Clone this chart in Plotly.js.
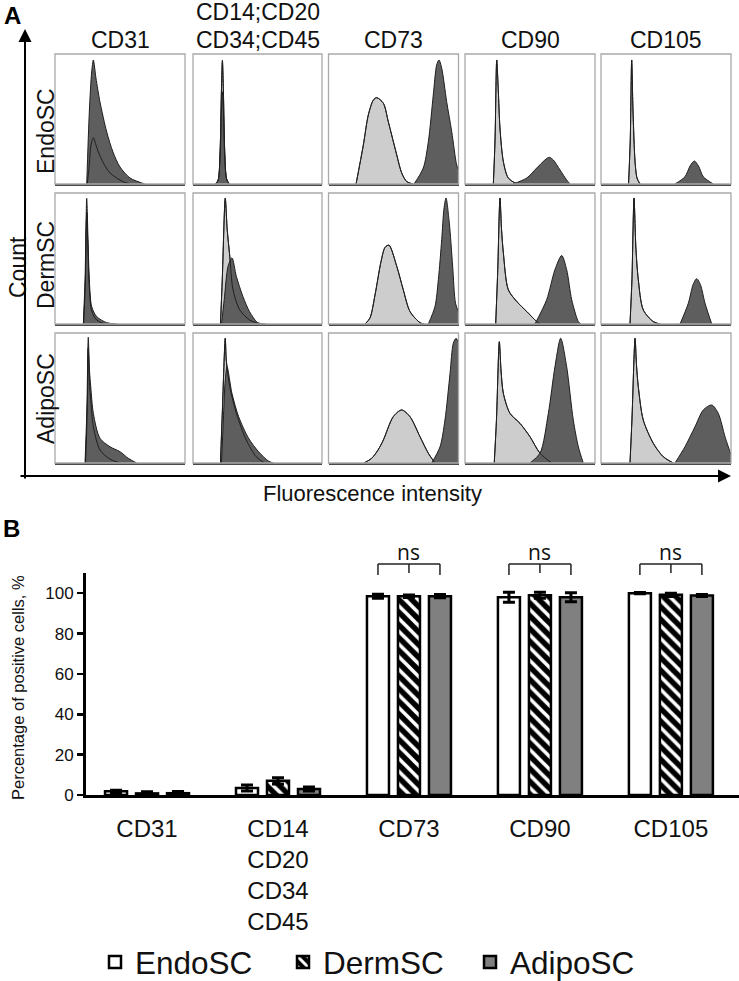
<!DOCTYPE html>
<html><head><meta charset="utf-8">
<script src="https://cdn.plot.ly/plotly-3.0.1.min.js"></script>
<style>html,body{margin:0;padding:0;background:#fff}#chart{width:739px;height:981px}</style>
</head><body><div id="chart"></div>
<script>
// ================= DATA =================
const cellTypes = ['EndoSC', 'DermSC', 'AdipoSC'];
const histHeaders = ['CD31', 'CD14;CD20<br>CD34;CD45', 'CD73', 'CD90', 'CD105'];

// Flow cytometry histograms: [fluorescence (panel units 0-100), relative count (0-100)]
// light grey = control, dark grey = stained
const endo_cd31_ctrl  = [[24.8,0],[26.2,12.3],[27.7,30],[29.5,35.6],[31.2,31],[33.3,24.8],[37.2,16.2],[42.3,8.5],[52.3,1.8],[57.7,0]];
const endo_cd31_stain = [[24.4,0],[26.4,55.4],[28.2,86.2],[29.5,95.4],[31.5,81.5],[34.6,63.1],[39.8,40],[44.6,24.6],[50,13.1],[57.7,4.6],[66.7,0.8],[69,0]];
const endo_cd14_ctrl  = [[17.5,0],[19.5,3],[21,25],[22,70],[22.8,95],[23.6,70],[24.6,25],[26,4],[28,0]];
const endo_cd14_stain = [[17.5,0],[19.5,3],[21,20],[22,55],[22.8,71],[23.6,55],[24.6,20],[26,4],[28,0]];
const endo_cd73_ctrl  = [[21.2,0],[26.8,30],[30.6,53],[34.5,64.6],[37.1,66.4],[42.2,62.1],[46,47.9],[48.6,37.7],[52.5,22.3],[56.3,8.5],[60.2,1.8],[65.2,0]];
const endo_cd73_stain = [[65.8,0],[72.9,12.3],[76.8,32.5],[80.6,68.5],[83.2,91.5],[85,95.4],[87.1,89],[90.9,63.3],[94.8,40.2],[98.6,14.6],[100,10.8]];
const endo_cd90_ctrl  = [[21.8,0],[23.1,33.8],[24.4,95.4],[25.6,72.3],[26.9,43.1],[29.5,17.2],[33.3,4.6],[39.8,0]];
const endo_cd90_stain = [[36.9,0],[47.5,4.6],[55.2,12.3],[61.5,18.5],[64.8,20.5],[67.9,18.5],[73.1,10.8],[78.2,3.1],[80.8,0]];
const endo_cd105_ctrl  = [[21.2,0],[22.5,33.8],[23.6,95.4],[24.6,57],[26.2,17.2],[27.7,4.6],[30,0]];
const endo_cd105_stain = [[56.9,0],[64.6,5.6],[68.5,13.8],[71.8,17.7],[75,13.8],[78.7,5.6],[86.4,0]];

const derm_cd31_ctrl  = [[22,0],[23.3,30],[24.4,85],[25.4,55],[26.4,28],[28.2,10],[32.1,3],[38,0]];
const derm_cd31_stain = [[21.8,0],[23.1,33.8],[24.4,95.9],[25.4,64.6],[26.4,33.8],[28.2,13.3],[32.1,5.6],[39.8,1],[47.5,0]];
const derm_cd14_ctrl  = [[21.3,0],[22.7,33.8],[25,96],[26.5,72.3],[28.5,51.8],[31,26.2],[36.2,10.8],[43.8,3.1],[51.5,0]];
const derm_cd14_stain = [[22.1,0],[24.2,18.5],[27.2,44.1],[30.2,50.5],[33.6,36.4],[38.7,21],[43.8,9.5],[50.2,1],[56.2,0]];
const derm_cd73_ctrl  = [[28.1,0],[31.9,4.6],[35.8,22.3],[40.4,47.7],[43.5,58.5],[46.5,60.2],[52.5,44.1],[57.5,26.2],[62.7,9.5],[70.4,1],[73.5,0]];
const derm_cd73_stain = [[76.8,0],[81.9,13.3],[84.5,33.8],[87.1,64.6],[88.8,87.7],[90.4,96.2],[92.9,77.5],[95.5,44.1],[97.7,15.9],[100,9.2]];
const derm_cd90_ctrl  = [[23.6,0],[25.2,41.5],[26.9,96.2],[28.1,72.3],[29.5,54.4],[33.3,26.2],[39.8,17.2],[47.5,9.5],[55.2,1.8],[57.7,0]];
const derm_cd90_stain = [[53.8,0],[62.8,18.5],[69.2,41.5],[74.4,52.3],[78.2,41.5],[82.1,18.5],[87.2,1.8],[89.2,0]];
const derm_cd105_ctrl  = [[22.3,0],[23.8,33.8],[25.4,96.2],[26.9,56.9],[28.7,33.8],[32.5,10.8],[40.2,1.8],[45.4,0]];
const derm_cd105_stain = [[60.8,0],[67.2,15.9],[70.8,30],[73.6,34.6],[76.5,30],[80,15.9],[85.2,0]];

const adipo_cd31_ctrl  = [[23.5,0],[24.8,40],[25.6,88],[26.5,62],[27.5,48],[29.5,28],[34.6,10],[42.3,3],[50,0]];
const adipo_cd31_stain = [[23.1,0],[24.5,40.8],[25.6,96.7],[26.5,71.5],[27.5,58.7],[29.5,38.2],[34.6,19],[42.3,12.5],[50,8.7],[56.4,3.6],[62.8,0]];
const adipo_cd14_ctrl  = [[21.3,0],[22.8,40.8],[25,95.9],[25.8,79.2],[28.5,58.7],[33.6,38.2],[41.3,17.7],[49,4.8],[55.4,0]];
const adipo_cd14_stain = [[22.1,0],[23.5,33.1],[25,63.8],[26.4,74.1],[30.2,53.6],[35.4,35.6],[43.1,19],[50.8,8.7],[58.5,1.5],[62.3,0]];
const adipo_cd73_ctrl  = [[27.3,0],[33.2,3.6],[38.1,10],[42.2,17.7],[49.8,35.6],[56.3,40.8],[62.7,35.6],[70.4,20.2],[76.8,7.5],[81.9,0]];
const adipo_cd73_stain = [[79.4,0],[85.8,12.5],[89.6,33.1],[93.5,69],[96,92.1],[98.1,95.9],[100,93]];
const adipo_cd90_ctrl  = [[22.5,0],[24.2,33.1],[26.4,93.3],[27.7,71.5],[29.5,53.6],[34.6,38.2],[42.3,30.5],[50,20.2],[57.7,7.5],[66.7,0]];
const adipo_cd90_stain = [[50,0],[57.7,7.5],[64.1,38.2],[69.2,74.1],[73.6,95.9],[78.2,74.1],[83.3,33.1],[87.2,12.5],[91,0]];
const adipo_cd105_ctrl  = [[22.3,0],[23.8,33.1],[26.2,95.9],[27.3,75.4],[28.7,58.7],[32.5,33.1],[40.2,15.2],[47.9,4.8],[55.6,0]];
const adipo_cd105_stain = [[56.9,0],[64.6,12.5],[72.3,27.9],[78.7,40.8],[85.2,44.6],[90.2,38.2],[95.4,20.2],[99.2,8.7],[100,6]];

const ctrlCurves = [
  [endo_cd31_ctrl, endo_cd14_ctrl, endo_cd73_ctrl, endo_cd90_ctrl, endo_cd105_ctrl],
  [derm_cd31_ctrl, derm_cd14_ctrl, derm_cd73_ctrl, derm_cd90_ctrl, derm_cd105_ctrl],
  [adipo_cd31_ctrl, adipo_cd14_ctrl, adipo_cd73_ctrl, adipo_cd90_ctrl, adipo_cd105_ctrl]
];
const stainCurves = [
  [endo_cd31_stain, endo_cd14_stain, endo_cd73_stain, endo_cd90_stain, endo_cd105_stain],
  [derm_cd31_stain, derm_cd14_stain, derm_cd73_stain, derm_cd90_stain, derm_cd105_stain],
  [adipo_cd31_stain, adipo_cd14_stain, adipo_cd73_stain, adipo_cd90_stain, adipo_cd105_stain]
];

// Panel B: percentage of positive cells
const barCategories = ['CD31', 'CD14<br>CD20<br>CD34<br>CD45', 'CD73', 'CD90', 'CD105'];
const endoValues  = [1.8, 3.5, 98.5, 98, 100];
const endoErrors  = [0.5, 1.5, 1, 2.5, 0.3];
const dermValues  = [0.8, 7, 98.5, 99, 99.2];
const dermErrors  = [0.8, 1.5, 0.6, 1.5, 0.8];
const adipoValues = [0.9, 3, 98.5, 98, 98.8];
const adipoErrors = [0.8, 1, 0.8, 2.2, 0.5];
const nsGroups = ['CD73', 'CD90', 'CD105'];
const nsLabel = 'ns';
const yTickVals = [0, 20, 40, 60, 80, 100];

// ================= LAYOUT HELPERS =================
const W = 739, H = 981;
const fx = px => px / W;
const fy = py => 1 - py / H;
const FONT = 'Liberation Sans, Arial, sans-serif';
const LIGHT = '#cdcdcd', DARK = '#5e5e5e', OUTLINE = '#1e1e1e';

const colPx = [[55,185],[193,322],[328.5,458.5],[465,595],[601,731]];
const rowPx = [[54,184],[193,324],[333,463]];

const data = [];
const layout = {
  width: W, height: H,
  margin: {l:0, r:0, t:0, b:0, autoexpand:false},
  paper_bgcolor: '#fff', plot_bgcolor: 'rgba(0,0,0,0)',
  showlegend: true,
  annotations: [], shapes: []
};

function axId(k){ return k === 1 ? '' : String(k); }

// ---------- Panel A ----------
for (let r = 0; r < 3; r++) {
  for (let c = 0; c < 5; c++) {
    const k = r * 5 + c + 1;
    const xa = 'x' + axId(k), ya = 'y' + axId(k);
    layout['xaxis' + axId(k)] = {
      domain: [fx(colPx[c][0]), fx(colPx[c][1])], range: [0, 100], anchor: ya,
      showgrid: false, zeroline: false, showticklabels: false, ticks: '',
      showline: true, linecolor: '#4a4a4a', linewidth: 2, fixedrange: true
    };
    layout['yaxis' + axId(k)] = {
      domain: [fy(rowPx[r][1]), fy(rowPx[r][0])], range: [0, 100], anchor: xa,
      showgrid: false, zeroline: false, showticklabels: false, ticks: '',
      showline: false, fixedrange: true
    };
    const ctrl = ctrlCurves[r][c], stain = stainCurves[r][c];
    const base = {type:'scatter', mode:'lines', xaxis: xa, yaxis: ya, hoverinfo:'skip', showlegend:false};
    const ln = {color: OUTLINE, width: 1, shape: 'spline', smoothing: 0.8};
    data.push(Object.assign({}, base, {
      x: ctrl.map(p => p[0]), y: ctrl.map(p => p[1]), fill: 'tozeroy', fillcolor: LIGHT, line: ln
    }));
    data.push(Object.assign({}, base, {
      x: stain.map(p => p[0]), y: stain.map(p => p[1]), fill: 'tozeroy', fillcolor: DARK, line: ln
    }));
    data.push(Object.assign({}, base, {
      x: ctrl.map(p => p[0]), y: ctrl.map(p => p[1]), line: ln
    }));
    layout.shapes.push({type:'rect', xref: xa + ' domain', yref: ya + ' domain', x0:0, x1:1, y0:0, y1:1,
      line:{color:'#a9a9a9', width:1.3}, layer:'above'});
  }
}

// column headers
histHeaders.forEach((h, c) => {
  const lines = h.split('<br>');
  const cx = (colPx[c][0] + colPx[c][1]) / 2;
  lines.forEach((t, i) => {
    const cy = 40 - (lines.length - 1 - i) * 28;
    layout.annotations.push({text: t, x: fx(cx), y: fy(cy), xref:'paper', yref:'paper',
      xanchor:'center', yanchor:'middle', showarrow:false, font:{family:FONT, size:23, color:'#111'}});
  });
});
// row labels
const rowLabelPy = [131, 265, 399];
cellTypes.forEach((t, r) => {
  layout.annotations.push({text: t, x: fx(46), y: fy(rowLabelPy[r]), xref:'paper', yref:'paper',
    xanchor:'center', yanchor:'middle', textangle:-90, showarrow:false, font:{family:FONT, size:23, color:'#111'}});
});
layout.annotations.push({text:'Count', x: fx(18), y: fy(267), xref:'paper', yref:'paper', xanchor:'center', yanchor:'middle',
  textangle:-90, showarrow:false, font:{family:FONT, size:23, color:'#111'}});
layout.annotations.push({text:'Fluorescence intensity', x: fx(372), y: fy(493), xref:'paper', yref:'paper', xanchor:'center', yanchor:'middle',
  showarrow:false, font:{family:FONT, size:22, color:'#111'}});
layout.annotations.push({text:'<b>A</b>', x: fx(12.5), y: fy(15.5), xref:'paper', yref:'paper', xanchor:'center', yanchor:'middle',
  showarrow:false, font:{family:FONT, size:24, color:'#000'}});
layout.annotations.push({text:'<b>B</b>', x: fx(11.5), y: fy(528.5), xref:'paper', yref:'paper', xanchor:'center', yanchor:'middle',
  showarrow:false, font:{family:FONT, size:24, color:'#000'}});
// axis arrows of panel A
layout.annotations.push({text:'', x: fx(25), y: fy(29), xref:'paper', yref:'paper', ax:0, ay:451, axref:'pixel', ayref:'pixel',
  showarrow:true, arrowhead:2, arrowsize:1.3, arrowwidth:2, arrowcolor:'#000'});
layout.annotations.push({text:'', x: fx(731), y: fy(476), xref:'paper', yref:'paper', ax:-712, ay:0, axref:'pixel', ayref:'pixel',
  showarrow:true, arrowhead:2, arrowsize:1.3, arrowwidth:2, arrowcolor:'#000'});

// ---------- Panel B ----------
const BARGAP = 0.29, BARGROUPGAP = 0.29;
layout.bargap = BARGAP; layout.bargroupgap = BARGROUPGAP; layout.barmode = 'group';
layout.xaxis16 = {
  domain: [fx(86), 1], anchor: 'y16', type: 'category', range: [-0.466, 4.52],
  showline: true, linecolor: '#000', linewidth: 3, ticks: '', showgrid: false, zeroline: false,
  tickfont: {family: FONT, size: 24, color: '#111'}, tickangle: 0, ticklabelstandoff: 10, fixedrange: true,
  automargin: false
};
layout.yaxis16 = {
  domain: [fy(795), fy(573)], anchor: 'x16', range: [0, 110],
  showline: true, linecolor: '#000', linewidth: 3, ticks: 'outside', ticklen: 6, tickwidth: 2.5, tickcolor: '#000',
  tickvals: yTickVals, showgrid: false, zeroline: false,
  tickfont: {family: FONT, size: 17, color: '#111'}, fixedrange: true, automargin: false
};
layout.annotations.push({text:'Percentage of positive cells, %', x: fx(18), y: fy(688), xref:'paper', yref:'paper',
  xanchor:'center', yanchor:'middle', textangle:-90, showarrow:false, font:{family:FONT, size:16.5, color:'#111'}});

const errStyle = {type:'data', visible:true, color:'#000', thickness:3, width:6};
const legFont = {family: FONT, size: 31.5, color: '#111'};
data.push({type:'bar', name:'EndoSC', x: barCategories, y: endoValues, xaxis:'x16', yaxis:'y16',
  marker:{color:'#ffffff', line:{color:'#000', width:2.5}}, error_y: Object.assign({array: endoErrors}, errStyle),
  legend:'legend', hoverinfo:'skip'});
data.push({type:'bar', name:'DermSC', x: barCategories, y: dermValues, xaxis:'x16', yaxis:'y16',
  marker:{color:'#000', line:{color:'#000', width:2.5},
    pattern:{shape:'\\', fillmode:'replace', bgcolor:'#000', fgcolor:'#fff', size:9, solidity:0.4}},
  error_y: Object.assign({array: dermErrors}, errStyle), legend:'legend2', hoverinfo:'skip'});
data.push({type:'bar', name:'AdipoSC', x: barCategories, y: adipoValues, xaxis:'x16', yaxis:'y16',
  marker:{color:'#808080', line:{color:'#000', width:2.5}}, error_y: Object.assign({array: adipoErrors}, errStyle),
  legend:'legend3', hoverinfo:'skip'});

const legY = fy(962);
layout.legend  = {x: fx(95),  y: legY, xanchor:'left', yanchor:'middle', font: legFont, bgcolor:'rgba(0,0,0,0)', borderwidth:0};
layout.legend2 = {x: fx(283), y: legY, xanchor:'left', yanchor:'middle', font: legFont, bgcolor:'rgba(0,0,0,0)', borderwidth:0};
layout.legend3 = {x: fx(470), y: legY, xanchor:'left', yanchor:'middle', font: legFont, bgcolor:'rgba(0,0,0,0)', borderwidth:0};

// "ns" brackets over groups (bar offsets follow from bargap)
const slot = (1 - BARGAP) / 3;
nsGroups.forEach(g => {
  const i = barCategories.indexOf(g);
  const yTop = fy(564), yEnd = fy(575), yMid = fy(573);
  const ln = {color:'#222', width:1.5};
  layout.shapes.push({type:'line', xref:'x16', yref:'paper', x0: i - slot, x1: i + slot, y0: yTop, y1: yTop, line: ln});
  layout.shapes.push({type:'line', xref:'x16', yref:'paper', x0: i - slot, x1: i - slot, y0: yTop, y1: yEnd, line: ln});
  layout.shapes.push({type:'line', xref:'x16', yref:'paper', x0: i + slot, x1: i + slot, y0: yTop, y1: yEnd, line: ln});
  layout.shapes.push({type:'line', xref:'x16', yref:'paper', x0: i, x1: i, y0: yTop, y1: yMid, line: ln});
  layout.annotations.push({text: nsLabel, x: i, y: fy(552), xref:'x16', yref:'paper', xanchor:'center', yanchor:'middle',
    showarrow:false, font:{family:'Open Sans, Liberation Sans, sans-serif', size:21, color:'#111'}});
});

Plotly.newPlot('chart', data, layout, {displayModeBar:false, staticPlot:true});
</script></body></html>
